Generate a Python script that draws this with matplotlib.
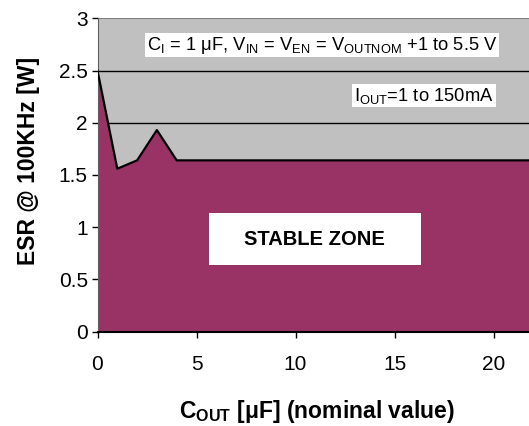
import matplotlib
matplotlib.use("Agg")
import matplotlib.pyplot as plt

# ESR stability curve
c_out = [0, 1, 2, 3, 4, 22]
esr = [2.5, 1.56, 1.64, 1.93, 1.64, 1.64]

x_ticks = [0, 5, 10, 15, 20]
y_ticks = [0, 0.5, 1, 1.5, 2, 2.5, 3]
y_labels = ["0", "0.5", "1", "1.5", "2", "2.5", "3"]

plt.rcParams['font.family'] = ['Liberation Sans', 'DejaVu Sans']
plt.rcParams['mathtext.default'] = 'regular'

fig = plt.figure(figsize=(5.29, 4.26), dpi=100)
ax = fig.add_axes([97.5 / 529, (426 - 331.7) / 426, (529 - 97.5) / 529, (331.7 - 18.3) / 426])

ax.set_facecolor('#C0C0C0')
ax.set_xlim(0, (529 - 97.5) / 19.8)
ax.set_ylim(0, 3)

# gridlines behind the area
for yv in y_ticks[1:-1]:
    ax.axhline(yv, color='black', lw=1, zorder=1)
ax.axhline(3, color='#808080', lw=1.5, zorder=1)

ax.fill_between(c_out, esr, 0, color='#993366', lw=0, zorder=2)
ax.plot(c_out, esr, color='black', lw=1.6, zorder=3)

ax.set_xticks(x_ticks)
ax.set_yticks(y_ticks)
ax.set_yticklabels(y_labels)
ax.tick_params(axis='both', labelsize=15, direction='out', length=4, width=1, color='black')
ax.tick_params(axis='x', pad=13)
ax.tick_params(axis='y', pad=3)

ax.spines['top'].set_visible(False)
ax.spines['right'].set_visible(False)
ax.spines['left'].set_color('#606060')
ax.spines['bottom'].set_linewidth(1.5)

ax.set_ylabel('ESR @ 100KHz [W]', fontsize=16.5, fontweight='bold')
ax.yaxis.set_label_coords(-0.133, 0.545)
ax.set_xlabel(r'C$_{OUT}$ [μF] (nominal value)', fontsize=16.5, fontweight='bold')
ax.xaxis.set_label_coords(0.509, -0.213)

# annotations
ax.text(11.34, 2.744, r'C$_I$ = 1 μF, V$_{IN}$ = V$_{EN}$ = V$_{OUTNOM}$ +1 to 5.5 V',
        fontsize=13.2, ha='center', va='center', zorder=5,
        bbox=dict(facecolor='white', edgecolor='none', boxstyle='square,pad=0.1'))
ax.text(16.49, 2.26, r'I$_{OUT}$=1 to 150mA',
        fontsize=13.2, ha='center', va='center', zorder=5,
        bbox=dict(facecolor='white', edgecolor='none', boxstyle='square,pad=0.1'))
ax.add_patch(plt.Rectangle((5.63, 0.638), 16.33 - 5.63, 1.136 - 0.638,
                           facecolor='white', edgecolor='none', zorder=4))
ax.text(10.98, 0.878, 'STABLE ZONE', fontsize=14.5, fontweight='bold',
        ha='center', va='center', zorder=5)

fig.savefig('out.png', dpi=100)
